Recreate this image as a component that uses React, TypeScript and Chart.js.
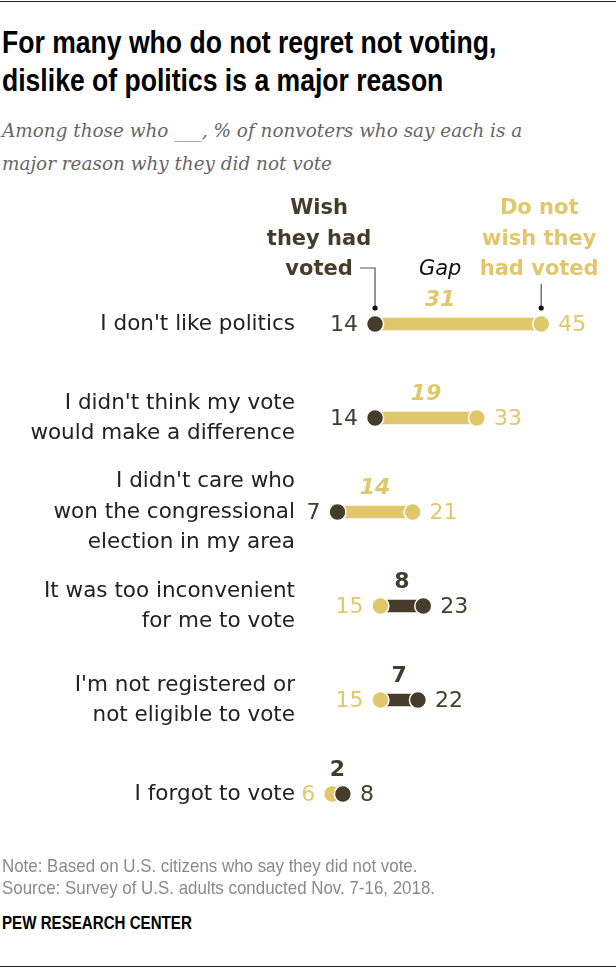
import React, { useEffect, useRef } from "react";
import { Chart, registerables } from "chart.js";

Chart.register(...registerables);

// ---------- data ----------
const categories: string[][] = [
  ["I don't like politics"],
  ["I didn't think my vote", "would make a difference"],
  ["I didn't care who", "won the congressional", "election in my area"],
  ["It was too inconvenient", "for me to vote"],
  ["I'm not registered or", "not eligible to vote"],
  ["I forgot to vote"],
];
const wishVoted = [14, 14, 7, 23, 22, 8];
const notWishVoted = [45, 33, 21, 15, 15, 6];
const gapValues = [31, 19, 14, 8, 7, 2];

const wishHeader = ["Wish", "they had", "voted"];
const notWishHeader = ["Do not", "wish they", "had voted"];
const gapHeader = "Gap";

// ---------- styles ----------
const DARK = "#453d2a";
const GOLD = "#e1c76c";
const SANS = "'DejaVu Sans', sans-serif";
const ARIAL = "'Liberation Sans', Arial, sans-serif";

const labelPlugin = {
  id: "dumbbellLabels",
  afterDatasetsDraw(chart: any) {
    const ctx: CanvasRenderingContext2D = chart.ctx;
    const goldMeta = chart.getDatasetMeta(1);
    const darkMeta = chart.getDatasetMeta(2);
    ctx.save();
    ctx.textBaseline = "middle";
    let gapHeaderX = 0;
    for (let i = 0; i < categories.length; i++) {
      const pw = darkMeta.data[i];
      const pn = goldMeta.data[i];
      const y = pw.y;
      const leftIsWish = pw.x <= pn.x;
      const left = leftIsWish ? pw : pn;
      const right = leftIsWish ? pn : pw;
      const leftVal = leftIsWish ? wishVoted[i] : notWishVoted[i];
      const rightVal = leftIsWish ? notWishVoted[i] : wishVoted[i];
      const leftCol = leftIsWish ? DARK : GOLD;
      const rightCol = leftIsWish ? GOLD : DARK;
      ctx.font = `22px ${SANS}`;
      ctx.textAlign = "right";
      ctx.fillStyle = leftCol;
      ctx.fillText(String(leftVal), left.x - 17, y + 1);
      ctx.textAlign = "left";
      ctx.fillStyle = rightCol;
      ctx.fillText(String(rightVal), right.x + 17, y + 1);

      // gap label
      const goldGap = notWishVoted[i] > wishVoted[i];
      let gx = (left.x + right.x) / 2;
      if (i === 0) {
        gx = gx - 18;
        gapHeaderX = gx;
      }
      ctx.textAlign = "center";
      ctx.font = goldGap ? `italic bold 22px ${SANS}` : `bold 22px ${SANS}`;
      ctx.fillStyle = goldGap ? GOLD : DARK;
      ctx.fillText(String(gapValues[i]), gx, y - 24);
    }

    // headers
    const p0w = darkMeta.data[0];
    const p0n = goldMeta.data[0];
    const y0 = p0w.y;
    const lh = 30.5;
    ctx.font = `bold 21px ${SANS}`;
    ctx.textAlign = "center";
    ctx.fillStyle = DARK;
    wishHeader.forEach((t, k) => ctx.fillText(t, p0w.x - 56, y0 - 115 + k * lh));
    ctx.fillStyle = GOLD;
    notWishHeader.forEach((t, k) => ctx.fillText(t, p0n.x - 2, y0 - 115 + k * lh));
    ctx.font = `italic 21px ${SANS}`;
    ctx.fillStyle = "#111";
    ctx.fillText(gapHeader, gapHeaderX, y0 - 54);

    // leader lines
    ctx.strokeStyle = "#555";
    ctx.lineWidth = 1.2;
    ctx.beginPath();
    ctx.moveTo(p0w.x - 15, y0 - 56);
    ctx.lineTo(p0w.x, y0 - 56);
    ctx.lineTo(p0w.x, y0 - 16);
    ctx.moveTo(p0n.x, y0 - 40);
    ctx.lineTo(p0n.x, y0 - 16);
    ctx.stroke();
    ctx.fillStyle = "#111";
    [p0w.x, p0n.x].forEach((x) => {
      ctx.beginPath();
      ctx.arc(x, y0 - 16, 2.6, 0, Math.PI * 2);
      ctx.fill();
    });
    ctx.restore();
  },
};

function DumbbellChart() {
  const ref = useRef<HTMLCanvasElement | null>(null);
  useEffect(() => {
    if (!ref.current) return;
    const bars = wishVoted.map((w, i) => [Math.min(w, notWishVoted[i]), Math.max(w, notWishVoted[i])]);
    const barColors = wishVoted.map((w, i) => (notWishVoted[i] > w ? GOLD : DARK));
    const chart = new Chart(ref.current, {
      type: "bar",
      data: {
        labels: categories as any,
        datasets: [
          {
            type: "bar",
            data: bars as any,
            backgroundColor: barColors,
            barThickness: 12,
            borderWidth: 0,
            indexAxis: "y",
            order: 3,
          } as any,
          {
            type: "line",
            data: notWishVoted,
            indexAxis: "y",
            showLine: false,
            pointRadius: 8.5,
            pointHoverRadius: 8.5,
            pointBackgroundColor: GOLD,
            pointBorderColor: "#ffffff",
            pointBorderWidth: 1.5,
            order: 2,
          } as any,
          {
            type: "line",
            data: wishVoted,
            indexAxis: "y",
            showLine: false,
            pointRadius: 8.5,
            pointHoverRadius: 8.5,
            pointBackgroundColor: DARK,
            pointBorderColor: "#ffffff",
            pointBorderWidth: 1.5,
            order: 1,
          } as any,
        ],
      },
      options: {
        indexAxis: "y",
        animation: false,
        responsive: false,
        events: [],
        layout: { padding: { top: 87, bottom: 29, left: 0, right: 48 } },
        plugins: { legend: { display: false }, tooltip: { enabled: false } },
        scales: {
          x: { type: "linear", min: 0, max: 50, display: false },
          y: {
            type: "category",
            grid: { display: false, drawTicks: false },
            border: { display: false },
            ticks: {
              color: "#222",
              font: { family: "DejaVu Sans", size: 21.5, lineHeight: 1.4 },
              padding: 5,
              autoSkip: false,
            },
            afterFit(scale: any) {
              scale.width = 300;
            },
          },
        },
      } as any,
      plugins: [labelPlugin],
    });
    return () => chart.destroy();
  }, []);
  return (
    <canvas
      ref={ref}
      width={616}
      height={680}
      style={{ position: "absolute", left: 0, top: 190, width: 616, height: 680 }}
    />
  );
}

export default function App() {
  useEffect(() => {
    document.body.style.margin = "0";
  }, []);
  return (
    <div style={{ position: "relative", width: 616, height: 968, background: "#fff", overflow: "hidden" }}>
      <div style={{ position: "absolute", left: 0, top: 1, width: 616, height: 1, background: "#222" }} />
      <div
        style={{
          position: "absolute",
          left: 1.5,
          top: 23,
          fontFamily: ARIAL,
          fontWeight: "bold",
          fontSize: 32,
          lineHeight: "38px",
          color: "#000",
          whiteSpace: "nowrap",
          transform: "scaleX(0.83)",
          transformOrigin: "0 0",
        }}
      >
        For many who do not regret not voting,
        <br />
        dislike of politics is a major reason
      </div>
      <div
        style={{
          position: "absolute",
          left: 2,
          top: 114,
          fontFamily: "'DejaVu Serif', serif",
          fontStyle: "italic",
          fontSize: 18.4,
          lineHeight: "33px",
          color: "#666",
          whiteSpace: "nowrap",
        }}
      >
        Among those who ___, % of nonvoters who say each is a
        <br />
        major reason why they did not vote
      </div>
      <DumbbellChart />
      <div
        style={{
          position: "absolute",
          left: 2,
          top: 855,
          fontFamily: ARIAL,
          fontSize: 19,
          lineHeight: "22px",
          color: "#8a8a8a",
          whiteSpace: "nowrap",
          transform: "scaleX(0.89)",
          transformOrigin: "0 0",
        }}
      >
        Note: Based on U.S. citizens who say they did not vote.
        <br />
        Source: Survey of U.S. adults conducted Nov. 7-16, 2018.
      </div>
      <div
        style={{
          position: "absolute",
          left: 2,
          top: 912,
          fontFamily: ARIAL,
          fontWeight: "bold",
          fontSize: 18,
          lineHeight: "22px",
          color: "#000",
          whiteSpace: "nowrap",
          transform: "scaleX(0.84)",
          transformOrigin: "0 0",
        }}
      >
        PEW RESEARCH CENTER
      </div>
      <div style={{ position: "absolute", left: 0, top: 966, width: 616, height: 1, background: "#222" }} />
    </div>
  );
}
